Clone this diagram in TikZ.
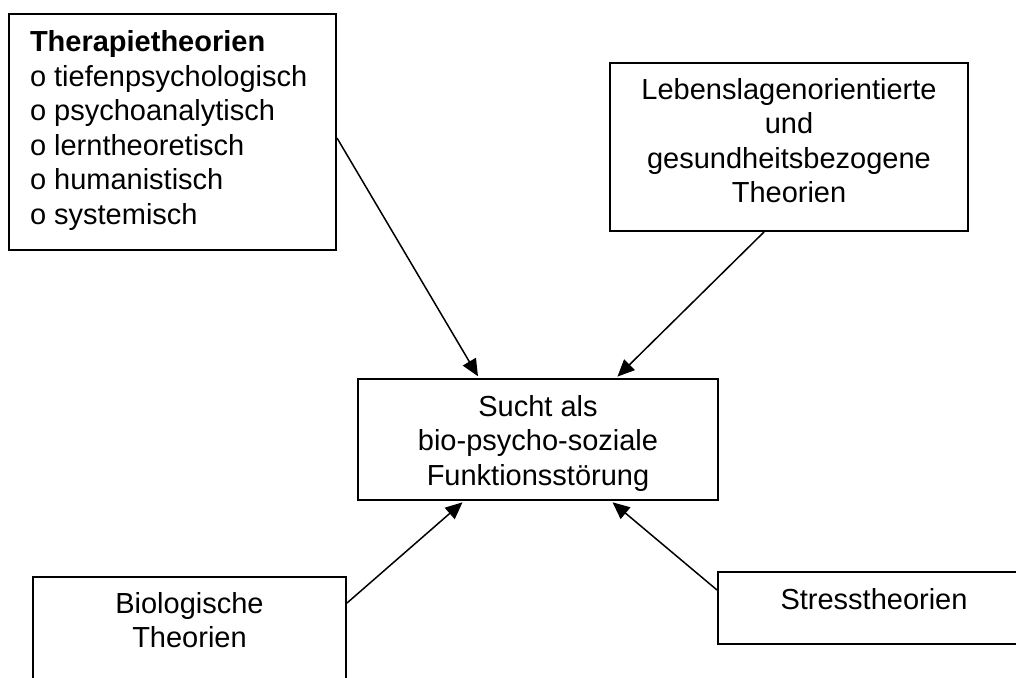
\documentclass[tikz,border=0pt]{standalone}
\usepackage{fontspec}
\setmainfont{Liberation Sans}
\usetikzlibrary{arrows.meta}

% text of a box: width, height, space above first baseline, lines
\newcommand{\boxtext}[4]{\parbox[t][#2][t]{#1}{\centering\rule{0pt}{#3}#4}}

\begin{document}
\begin{tikzpicture}[x=1pt,y=-1pt,
  theory/.style={draw,line width=2pt,inner sep=0pt,anchor=north west,
    font=\fontsize{29}{34.5}\selectfont},
  influence/.style={line width=1.5pt,-{Triangle[length=17pt,width=15pt]},shorten >=2pt}]
\useasboundingbox (0,0) rectangle (1016,677);
\clip (0,0) rectangle (1016,677);

% boxes
\node[theory] (ther) at (8,13) {\parbox[t][236pt][t]{327pt}{\raggedright\leftskip=21pt
  \rule{0pt}{38pt}\textbf{Therapietheorien}\\o tiefenpsychologisch\\o psychoanalytisch\\
  o lerntheoretisch\\o humanistisch\\o systemisch}};
\node[theory] (leben) at (609,62) {\boxtext{358pt}{168pt}{36pt}{Lebenslagenorientierte\\und\\gesundheitsbezogene\\Theorien}};
\node[theory] (sucht) at (357,378) {\boxtext{360pt}{121pt}{37pt}{Sucht als\\bio-psycho-soziale\\Funktionsstörung}};
\node[theory] (bio) at (32,576) {\boxtext{313pt}{140pt}{36pt}{Biologische\\Theorien}};
\node[theory] (stress) at (717,571) {\boxtext{312pt}{72pt}{37pt}{Stresstheorien}};

% arrows into the centre
\draw[influence] ([yshift=-6pt]ther.east) -- ([xshift=-59pt]sucht.north);
\draw[influence] ([xshift=-25pt]leben.south) -- ([xshift=78pt]sucht.north);
\draw[influence] ([yshift=-27pt]bio.north east) -- ([xshift=-74pt]sucht.south);
\draw[influence] ([yshift=-19pt]stress.north west) -- ([xshift=73pt]sucht.south);
\end{tikzpicture}
\end{document}
